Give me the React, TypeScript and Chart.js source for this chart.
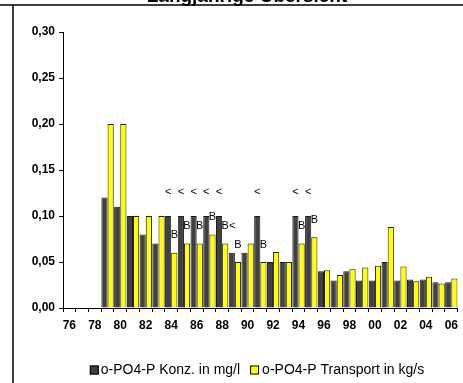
import React, { useEffect, useRef } from 'react';
import { Chart, registerables } from 'chart.js';

Chart.register(...registerables);

const years = ['76', '77', '78', '79', '80', '81', '82', '83', '84', '85', '86', '87', '88', '89', '90', '91', '92', '93', '94', '95', '96', '97', '98', '99', '00', '01', '02', '03', '04', '05', '06'];

const konz = [null, null, null, 0.12, 0.11, 0.10, 0.08, 0.07, 0.10, 0.10, 0.10, 0.10, 0.10, 0.06, 0.06, 0.10, 0.05, 0.05, 0.10, 0.10, 0.04, 0.03, 0.04, 0.03, 0.03, 0.05, 0.03, 0.031, 0.031, 0.028, 0.028];

const transport = [null, null, null, 0.20, 0.20, 0.10, 0.10, 0.10, 0.06, 0.07, 0.07, 0.08, 0.07, 0.05, 0.07, 0.05, 0.061, 0.05, 0.07, 0.077, 0.041, 0.036, 0.042, 0.044, 0.046, 0.088, 0.045, 0.029, 0.034, 0.0265, 0.032];

const konzLabels = ['', '', '', '', '', '', '', '', '<', '<', '<', '<', '<', '', '', '<', '', '', '<', '<', '', '', '', '', '', '', '', '', '', '', ''];

const transportLabels = ['', '', '', '', '', '', '', '', 'B', 'B', 'B', 'B', 'B<', 'B', '', 'B', '', '', 'B', 'B', '', '', '', '', '', '', '', '', '', '', ''];

const seriesNames = ['o-PO4-P Konz. in mg/l', 'o-PO4-P Transport in kg/s'];
const seriesColors = ['#404040', '#ffff00'];
const titleText = 'Langjährige Übersicht';

const FONT = "'Liberation Sans', Arial, sans-serif";

const decorPlugin = {
  id: 'decor',
  afterDraw(chart: any) {
    const ctx = chart.ctx;
    const H = chart.height;
    ctx.save();
    // frame lines
    ctx.strokeStyle = '#000';
    ctx.lineWidth = 1.5;
    ctx.beginPath();
    ctx.moveTo(0, 5);
    ctx.lineTo(chart.width, 5);
    ctx.moveTo(13, 5);
    ctx.lineTo(13, H);
    ctx.stroke();
    // title (cut off at top)
    ctx.fillStyle = '#000';
    ctx.font = `bold 19px ${FONT}`;
    ctx.textAlign = 'center';
    ctx.textBaseline = 'alphabetic';
    ctx.fillText(titleText, 247, 1.5);
    // legend
    ctx.font = `14px ${FONT}`;
    ctx.textAlign = 'left';
    ctx.textBaseline = 'middle';
    const box = 9;
    const w1 = ctx.measureText(chart.data.datasets[0].label).width;
    const w2 = ctx.measureText(chart.data.datasets[1].label).width;
    const total = box + 2 + w1 + 10 + box + 3 + w2;
    let x = 257 - total / 2;
    const yMid = 370;
    chart.data.datasets.forEach((ds: any, i: number) => {
      ctx.fillStyle = ds.backgroundColor;
      ctx.fillRect(x, yMid - box / 2, box, box);
      ctx.strokeStyle = '#000';
      ctx.lineWidth = 1;
      ctx.strokeRect(x + 0.5, yMid - box / 2 + 0.5, box - 1, box - 1);
      x += box + (i === 0 ? 2 : 3);
      ctx.fillStyle = '#000';
      ctx.fillText(ds.label, x, yMid);
      x += (i === 0 ? w1 : w2) + 10;
    });
    ctx.restore();
  },
  afterDatasetsDraw(chart: any) {
    const ctx = chart.ctx;
    const labelSets = [konzLabels, transportLabels];
    const offsets = [24, 17.5];
    ctx.save();
    ctx.fillStyle = '#000';
    ctx.textBaseline = 'middle';
    ctx.font = `11px ${FONT}`;
    labelSets.forEach((labels, di) => {
      const meta = chart.getDatasetMeta(di);
      meta.data.forEach((el: any, j: number) => {
        const txt = labels[j];
        if (!txt) return;
        if (di === 0) {
          ctx.textAlign = 'center';
          ctx.fillText(txt, el.x, el.y - offsets[di]);
        } else {
          ctx.textAlign = 'left';
          const bw = ctx.measureText('B').width;
          ctx.fillText(txt, el.x - bw / 2, el.y - offsets[di]);
        }
      });
    });
    ctx.restore();
  },
};

export default function App() {
  const ref = useRef<HTMLCanvasElement | null>(null);

  useEffect(() => {
    if (!ref.current) return;
    const chart = new Chart(ref.current, {
      type: 'bar',
      data: {
        labels: years,
        datasets: [
          {
            label: seriesNames[0],
            data: konz,
            backgroundColor: seriesColors[0],
            borderColor: '#1a1a1a',
            borderWidth: 1,
            categoryPercentage: 0.97,
            barPercentage: 1,
          },
          {
            label: seriesNames[1],
            data: transport,
            backgroundColor: seriesColors[1],
            borderColor: '#1a1a1a',
            borderWidth: 1,
            categoryPercentage: 0.97,
            barPercentage: 1,
          },
        ],
      },
      options: {
        animation: false,
        responsive: false,
        maintainAspectRatio: false,
        devicePixelRatio: 1,
        layout: { padding: { top: 32, left: 0, right: 0, bottom: 0 } },
        plugins: {
          legend: { display: false },
          tooltip: { enabled: false },
          title: { display: false },
        },
        scales: {
          x: {
            offset: true,
            grid: {
              display: true,
              offset: true,
              drawOnChartArea: false,
              drawTicks: true,
              tickLength: 4,
              color: '#000',
            },
            border: { display: true, color: '#000', width: 1 },
            ticks: {
              autoSkip: false,
              maxRotation: 0,
              minRotation: 0,
              padding: 6,
              color: '#000',
              font: { family: FONT, size: 12, weight: 'bold' },
              callback: (_v: any, i: number) => (i % 2 === 0 ? years[i] : ''),
            },
            afterFit: (scale: any) => {
              scale.height = 75;
            },
          },
          y: {
            min: 0,
            max: 0.3,
            grid: {
              display: true,
              drawOnChartArea: false,
              drawTicks: true,
              tickLength: 4,
              color: '#000',
            },
            border: { display: true, color: '#000', width: 1 },
            ticks: {
              stepSize: 0.05,
              padding: 4,
              color: '#000',
              font: { family: FONT, size: 12, weight: 'bold' },
              callback: (v: any) => Number(v).toFixed(2).replace('.', ','),
            },
            afterFit: (scale: any) => {
              scale.width = 63;
            },
          },
        },
      },
      plugins: [decorPlugin],
    });
    return () => chart.destroy();
  }, []);

  return (
    <div style={{ position: 'absolute', left: 0, top: 0, width: 463, height: 383, overflow: 'hidden', background: '#fff' }}>
      <canvas ref={ref} width={464} height={383} style={{ display: 'block' }} />
    </div>
  );
}
